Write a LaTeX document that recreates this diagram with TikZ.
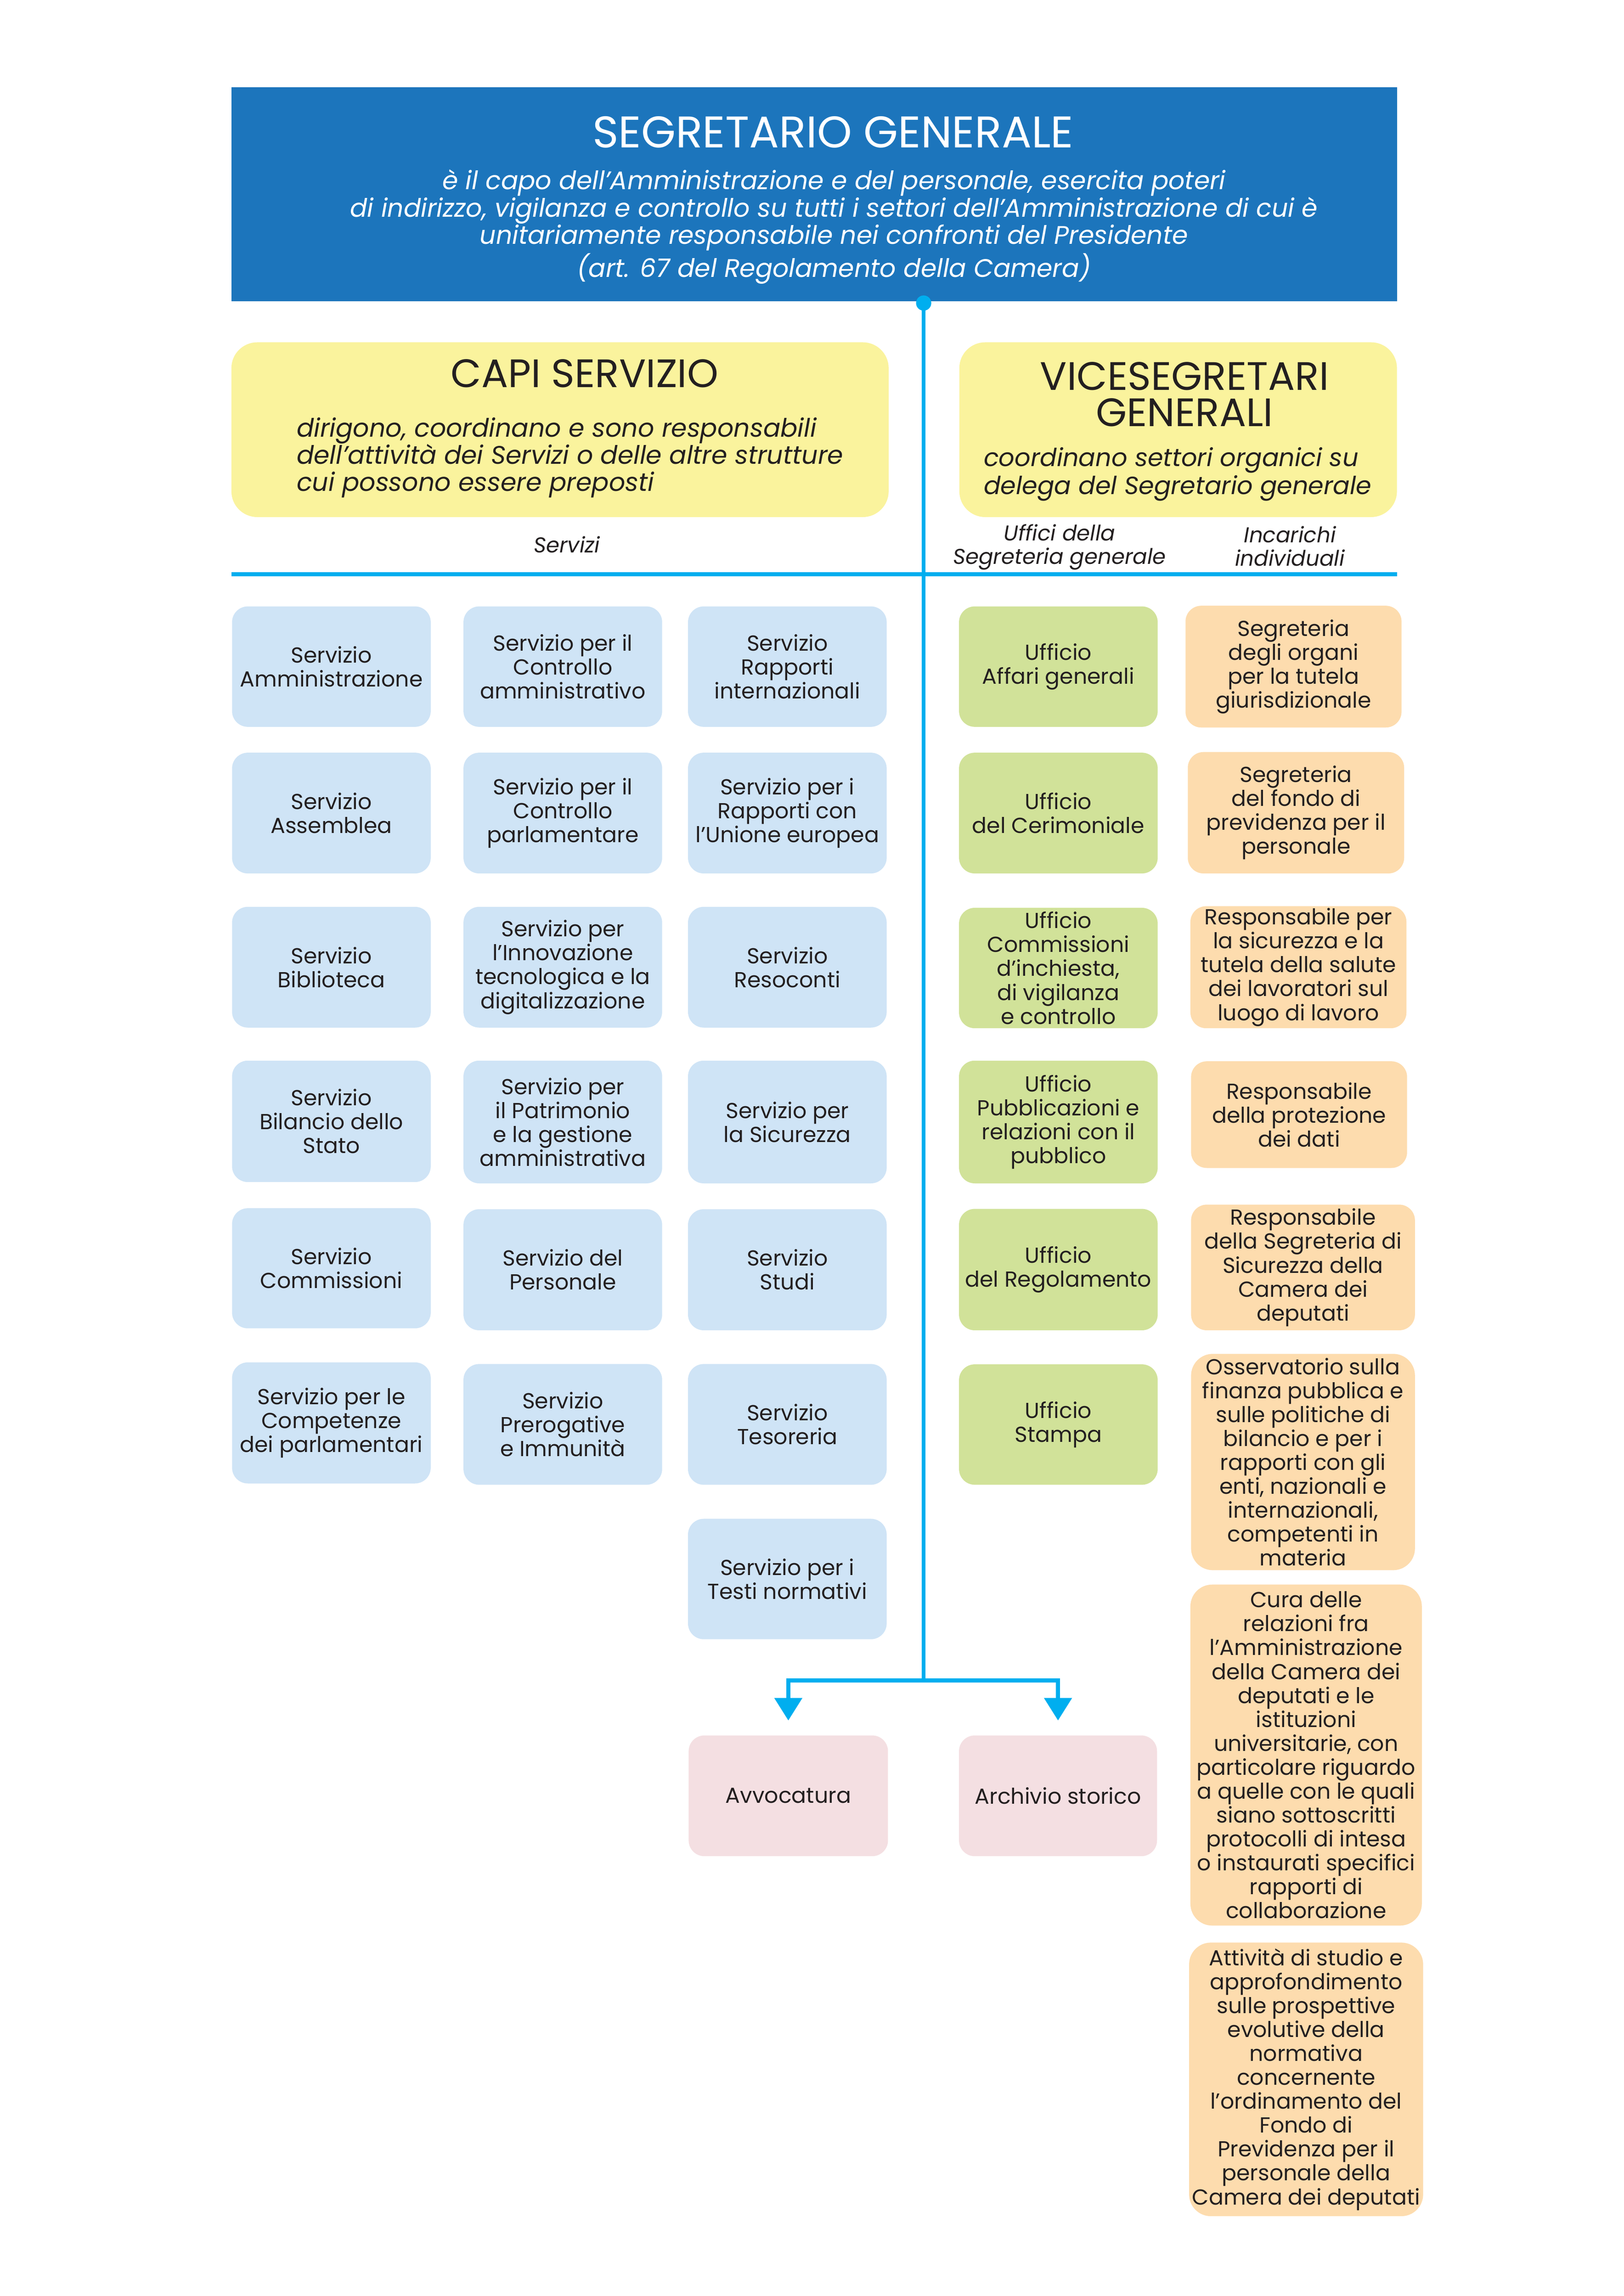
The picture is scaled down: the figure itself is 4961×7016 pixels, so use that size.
\documentclass[tikz,border=0pt]{standalone}
\usepackage{fontspec}
\setmainfont{Poppins}
\usetikzlibrary{arrows.meta}
\definecolor{sgblue}{HTML}{1C75BC}
\definecolor{lineblue}{HTML}{00AEEF}
\definecolor{yel}{HTML}{FAF39D}
\definecolor{lblue}{HTML}{CFE4F6}
\definecolor{lgreen}{HTML}{D1E299}
\definecolor{lorange}{HTML}{FDDCAE}
\definecolor{lpink}{HTML}{F4DFE2}
\definecolor{txt}{HTML}{231F20}
\def\u{0.0423333mm}
\newcommand\bxfont{\fontsize{8}{8.8}\selectfont}
\newcommand\mkbox[7]{\node[#2, minimum width={(#5-#3)*\u}, minimum height={(#6-#4)*\u}] (#1) at ({(#3+#5)/2},{(#4+#6)/2}) {#7};}
\begin{document}
\begin{tikzpicture}[x=\u, y=-\u,
  box/.style={rounded corners=5.8pt, inner sep=0pt, align=center, font=\bxfont, text=txt},
  sbox/.style={box, fill=lblue},
  gbox/.style={box, fill=lgreen},
  obox/.style={box, fill=lorange},
  tbox/.style={box, fill=lorange, rounded corners=8pt},
  pbox/.style={box, fill=lpink},
  ybox/.style={box, fill=yel, rounded corners=9.5pt},
  hdr/.style={fill=sgblue, inner sep=0pt},
  conn/.style={draw=lineblue, line width=1.45pt},
  tip/.style={-{Triangle[length=8.3pt,width=10pt]}},
  ttl/.style={inner sep=0pt, font=\fontsize{16.3}{18}\selectfont},
  sttl/.style={inner sep=0pt, align=center, text=txt, font=\fontsize{14.6}{13.5}\selectfont},
  desc/.style={inner sep=0pt, font=\fontsize{9.35}{10}\selectfont\itshape},
  vdesc/.style={inner sep=0pt, font=\fontsize{9.15}{10.2}\selectfont\itshape},
  lbl/.style={inner sep=0pt, align=center, text=txt, font=\fontsize{7.9}{8.6}\selectfont\itshape}]
\useasboundingbox[fill=white] (0,0) rectangle (4961,7016);
% header
\mkbox{sg}{hdr}{707}{267}{4268}{921}{}
\node[ttl, text=white, anchor=base] (sgt) at (2545,451) {SEGRETARIO GENERALE};
\node[desc, text=white, align=center] (sgd) at (2548,693) {è il capo dell’Amministrazione e del personale, esercita poteri\\di indirizzo, vigilanza e controllo su tutti i settori dell’Amministrazione di cui è\\unitariamente responsabile nei confronti del Presidente\\(art. 67 del Regolamento della Camera)};
% yellow boxes
\mkbox{capi}{ybox}{707}{1046}{2715}{1580}{}
\node[sttl, anchor=base] (capit) at (1786,1184) {CAPI SERVIZIO};
\node[desc, text=txt, align=left, anchor=west] (capid) at (905,1398) {dirigono, coordinano e sono responsabili\\dell’attività dei Servizi o delle altre strutture\\cui possono essere preposti};
\mkbox{vice}{ybox}{2931}{1046}{4268}{1580}{}
\node[sttl] (vicet) at (3619,1205) {VICESEGRETARI\\GENERALI};
\node[vdesc, text=txt, align=left, anchor=west] (viced) at (3004,1449) {coordinano settori organici su\\delega del Segretario generale};
% labels
\node[lbl, anchor=base] (lserv) at (1732,1689) {Servizi};
\node[lbl] (luff) at (3237,1672) {Uffici della\\Segreteria generale};
\node[lbl] (linc) at (3941,1669) {Incarichi\\individuali};
% connectors
\coordinate (stem) at (2822,926);
\coordinate (junc) at (2822,5135);
\coordinate (hlA) at (707,1755);
\coordinate (hlB) at (4268,1755);
\draw[conn] (hlA) -- (hlB);
\draw[conn] (stem) -- (junc);
\fill[lineblue] (stem) circle[radius=2.8pt];
% services
\mkbox{s11}{sbox}{709}{1853}{1316}{2221}{Servizio\\Amministrazione}
\mkbox{s21}{sbox}{1416}{1853}{2023}{2221}{Servizio per il\\Controllo\\amministrativo}
\mkbox{s31}{sbox}{2102}{1853}{2709}{2221}{Servizio\\Rapporti\\internazionali}
\mkbox{s12}{sbox}{709}{2300}{1316}{2669}{Servizio\\Assemblea}
\mkbox{s22}{sbox}{1416}{2300}{2023}{2669}{Servizio per il\\Controllo\\parlamentare}
\mkbox{s32}{sbox}{2102}{2300}{2709}{2669}{Servizio per i\\Rapporti con\\l’Unione europea}
\mkbox{s13}{sbox}{709}{2771}{1316}{3140}{Servizio\\Biblioteca}
\mkbox{s23}{sbox}{1416}{2771}{2023}{3140}{Servizio per\\l’Innovazione\\tecnologica e la\\digitalizzazione}
\mkbox{s33}{sbox}{2102}{2771}{2709}{3140}{Servizio\\Resoconti}
\mkbox{s14}{sbox}{709}{3241}{1316}{3612}{Servizio\\Bilancio dello\\Stato}
\mkbox{s24}{sbox}{1416}{3241}{2023}{3616}{Servizio per\\il Patrimonio\\e la gestione\\amministrativa}
\mkbox{s34}{sbox}{2102}{3241}{2709}{3616}{Servizio per\\la Sicurezza}
\mkbox{s15}{sbox}{709}{3692}{1316}{4059}{Servizio\\Commissioni}
\mkbox{s25}{sbox}{1416}{3695}{2023}{4065}{Servizio del\\Personale}
\mkbox{s35}{sbox}{2102}{3695}{2709}{4065}{Servizio\\Studi}
\mkbox{s16}{sbox}{709}{4163}{1316}{4533}{Servizio per le\\Competenze\\dei parlamentari}
\mkbox{s26}{sbox}{1416}{4168}{2023}{4537}{Servizio\\Prerogative\\e Immunità}
\mkbox{s36}{sbox}{2102}{4168}{2709}{4537}{Servizio\\Tesoreria}
\mkbox{s37}{sbox}{2102}{4641}{2709}{5009}{Servizio per i\\Testi normativi}
% uffici
\mkbox{g1}{gbox}{2930}{1853}{3537}{2221}{Ufficio\\Affari generali}
\mkbox{g2}{gbox}{2930}{2300}{3537}{2669}{Ufficio\\del Cerimoniale}
\mkbox{g3}{gbox}{2930}{2774}{3537}{3142}{Ufficio\\Commissioni\\d’inchiesta,\\di vigilanza\\e controllo}
\mkbox{g4}{gbox}{2930}{3241}{3537}{3616}{Ufficio\\Pubblicazioni e\\relazioni con il\\pubblico}
\mkbox{g5}{gbox}{2930}{3694}{3537}{4065}{Ufficio\\del Regolamento}
\mkbox{g6}{gbox}{2930}{4169}{3537}{4537}{Ufficio\\Stampa}
% incarichi
\mkbox{o1}{obox}{3622}{1851}{4282}{2223}{Segreteria\\degli organi\\per la tutela\\giurisdizionale}
\mkbox{o2}{obox}{3629}{2298}{4290}{2669}{Segreteria\\del fondo di\\previdenza per il\\personale}
\mkbox{o3}{obox}{3637}{2769}{4297}{3142}{Responsabile per\\la sicurezza e la\\tutela della salute\\dei lavoratori sul\\luogo di lavoro}
\mkbox{o4}{obox}{3639}{3243}{4299}{3569}{Responsabile\\della protezione\\dei dati}
\mkbox{o5}{obox}{3639}{3681}{4323}{4065}{Responsabile\\della Segreteria di\\Sicurezza della\\Camera dei\\deputati}
\mkbox{o6}{tbox}{3639}{4137}{4323}{4798}{Osservatorio sulla\\finanza pubblica e\\sulle politiche di\\bilancio e per i\\rapporti con gli\\enti, nazionali e\\internazionali,\\competenti in\\materia}
\mkbox{o7}{tbox}{3637}{4842}{4344}{5884}{Cura delle\\relazioni fra\\l’Amministrazione\\della Camera dei\\deputati e le\\istituzioni\\universitarie, con\\particolare riguardo\\a quelle con le quali\\siano sottoscritti\\protocolli di intesa\\o instaurati specifici\\rapporti di\\collaborazione}
\mkbox{o8}{tbox}{3633}{5936}{4348}{6772}{Attività di studio e\\approfondimento\\sulle prospettive\\evolutive della\\normativa\\concernente\\l’ordinamento del\\Fondo di\\Previdenza per il\\personale della\\Camera dei deputati}
% bottom
\mkbox{avv}{pbox}{2104}{5303}{2713}{5672}{Avvocatura}
\mkbox{arch}{pbox}{2930}{5303}{3535}{5672}{Archivio storico}
\draw[conn, tip, shorten >=5.3pt] (junc) -| (avv.north);
\draw[conn, tip, shorten >=5.3pt] (junc) -| (arch.north);
\end{tikzpicture}
\end{document}
